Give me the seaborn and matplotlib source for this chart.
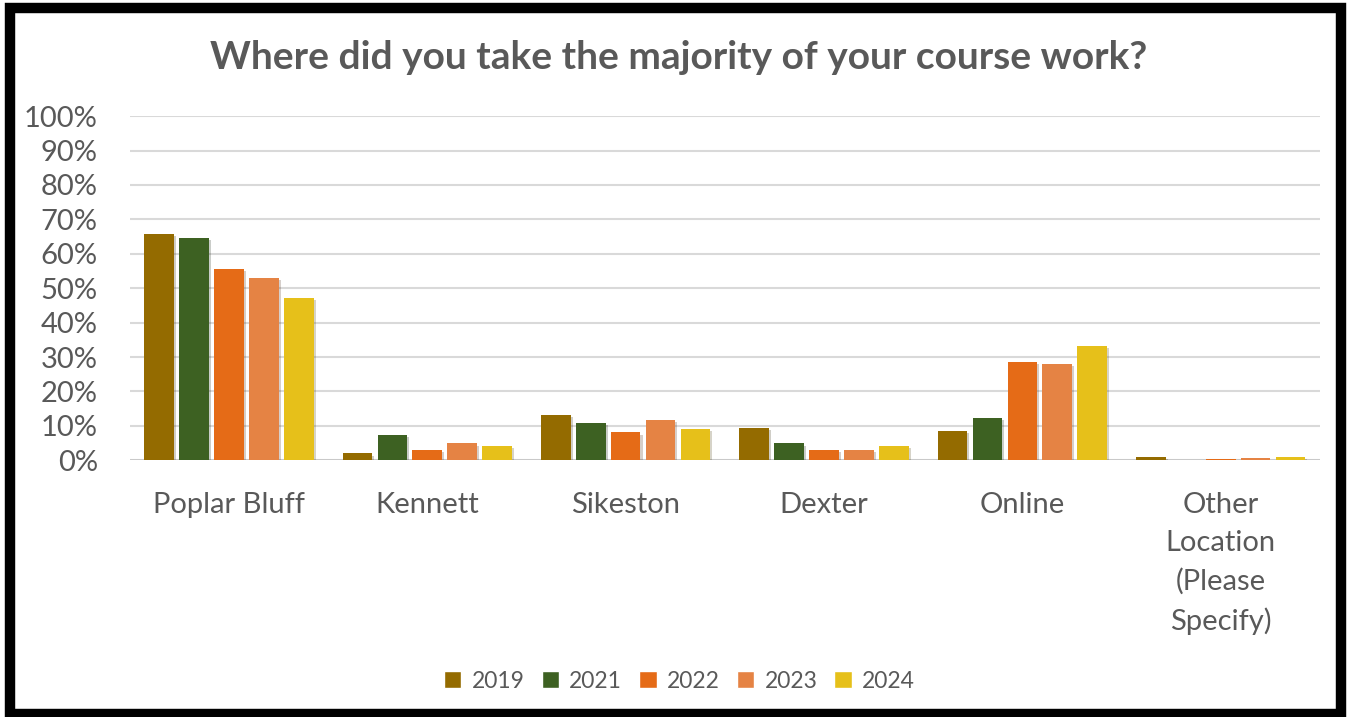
import pandas as pd
import matplotlib.pyplot as plt
import matplotlib.patheffects as pe
from matplotlib.patches import Rectangle, Patch
import seaborn as sns

# ---- data ----
locations = ['Poplar Bluff', 'Kennett', 'Sikeston', 'Dexter', 'Online',
             'Other\nLocation\n(Please\nSpecify)']
years = ['2019', '2021', '2022', '2023', '2024']
pct_2019 = [65.7, 2.0, 13.1, 9.3, 8.4, 1.1]
pct_2021 = [64.5, 7.3, 10.8, 4.9, 12.2, 0.0]
pct_2022 = [55.5, 2.9, 8.1, 2.9, 28.5, 0.5]
pct_2023 = [52.9, 4.9, 11.6, 2.9, 27.9, 0.8]
pct_2024 = [47.1, 4.1, 9.0, 4.1, 33.1, 1.1]
colors = ['#946B00', '#3D6122', '#E56B17', '#E58344', '#E6C01A']

series = [pct_2019, pct_2021, pct_2022, pct_2023, pct_2024]
df = pd.DataFrame([
    {'location': loc, 'year': yr, 'pct': vals[i] / 100}
    for yr, vals in zip(years, series)
    for i, loc in enumerate(locations)
])

sns.set_theme(style='white')
plt.rcParams['font.family'] = ['Lato', 'DejaVu Sans']
grey = '#595959'

fig = plt.figure(figsize=(13.51, 7.17), dpi=100)
ax = fig.add_axes([0.096, 0.358, 0.881, 0.48])

sns.barplot(data=df, x='location', y='pct', hue='year', order=locations,
            hue_order=years, palette=colors, width=0.88, gap=0.15,
            saturation=1, legend=False, ax=ax, zorder=3, linewidth=0)

for bar in ax.patches:
    bar.set_path_effects([pe.SimplePatchShadow(offset=(1.5, -1.5), alpha=0.22),
                          pe.Normal()])

ax.set_ylim(0, 1.0)
ax.set_xlim(-0.5, 5.5)
ax.set_yticks([i / 10 for i in range(11)])
ax.set_yticklabels([f'{i * 10}%' for i in range(11)])
ax.yaxis.grid(True, color='#D9D9D9', linewidth=1.5, zorder=0)
ax.axhline(0, color='#C8C8C8', linewidth=2, zorder=2)
for s in ax.spines.values():
    s.set_visible(False)
ax.set_xlabel('')
ax.set_ylabel('')
ax.tick_params(axis='y', labelsize=21, labelcolor=grey, pad=23, length=0)
ax.tick_params(axis='x', labelsize=21, labelcolor=grey, pad=23, length=0)
for lbl in ax.get_xticklabels():
    lbl.set_linespacing(1.55)
    lbl.set_verticalalignment('top')

fig.text(0.502, 0.92, 'Where did you take the majority of your course work?',
         ha='center', va='center', fontsize=28, fontweight='bold', color=grey)

handles = [Patch(facecolor=c, label=y) for c, y in zip(colors, years)]
fig.legend(handles=handles, loc='center', bbox_to_anchor=(0.503, 0.05),
           ncol=5, frameon=False, fontsize=16.5, labelcolor=grey,
           handlelength=0.75, handleheight=0.75, handletextpad=0.45,
           columnspacing=0.75)

# thick black frame around the chart
fig.patches.append(Rectangle((0.0075, 0.0035), 0.985, 0.985, transform=fig.transFigure,
                             fill=False, edgecolor='black', linewidth=7.5))

fig.savefig('out.png', dpi=100)
